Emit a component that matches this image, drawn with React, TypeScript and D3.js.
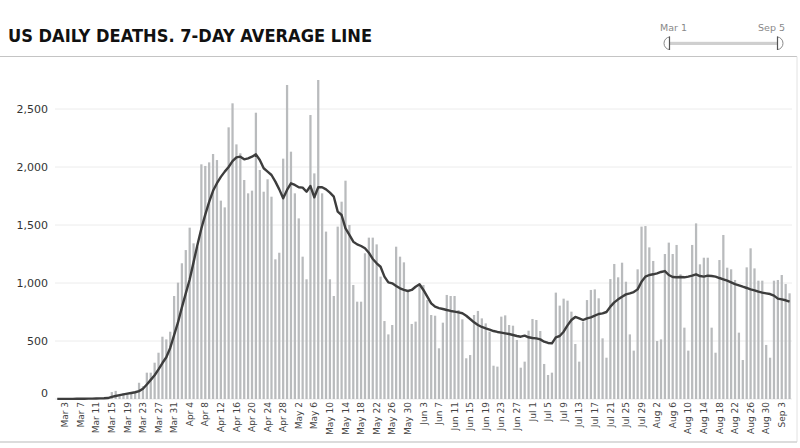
import React from "react";
import * as d3 from "d3";

// Daily US deaths, Mar 1 – Sep 5 (one value per day)
const deaths: number[] = [
  0, 1, 1, 2, 3, 2, 2, 3, 4, 4, 6, 7, 9, 12, 60, 70, 35, 50, 45, 55,
  65, 140, 110, 227, 227, 313, 399, 537, 514, 580, 888, 1003, 1170, 1284, 1477, 1342, 1313, 2023, 2009, 2040,
  2112, 2060, 1710, 1652, 2342, 2549, 2195, 2118, 1888, 1773, 1796, 2468, 1974, 1787, 1894, 1744, 1204, 1261, 2072, 2707,
  2132, 1773, 1557, 1227, 1032, 2448, 1945, 2750, 1773, 1443, 1032, 888, 1486, 1701, 1882, 1500, 983, 839, 839, 1256,
  1391, 1391, 1333, 1055, 672, 557, 638, 1313, 1227, 1178, 925, 647, 667, 991, 983, 853, 724, 718, 437, 658,
  897, 888, 888, 767, 687, 351, 379, 724, 759, 695, 652, 580, 287, 279, 710, 721, 638, 632, 509, 270,
  322, 589, 690, 681, 586, 302, 207, 227, 917, 805, 865, 848, 753, 474, 322, 667, 853, 940, 945, 868,
  523, 356, 1034, 1164, 1049, 1175, 1011, 557, 417, 1118, 1486, 1491, 1307, 1190, 500, 514, 1250, 1348, 1250, 1328,
  1075, 615, 417, 1328, 1514, 1161, 1218, 1218, 615, 399, 1198, 1414, 1132, 1118, 1026, 572, 336, 1135, 1299, 1126,
  1020, 1020, 466, 356, 1020, 1026, 1069, 991, 911,
];

// 7-day average line
const avg7: number[] = [
  1, 1, 1, 1, 1, 2, 2, 2, 3, 3, 4, 5, 6, 8, 18, 26, 33, 40, 46, 52,
  58, 68, 88, 125, 165, 205, 255, 310, 360, 440, 550, 660, 790, 910, 1030, 1180, 1330, 1470, 1590, 1700,
  1795, 1860, 1915, 1960, 2000, 2050, 2083, 2089, 2066, 2075, 2089, 2109, 2060, 1989, 1960, 1931, 1874, 1807, 1730, 1802,
  1859, 1845, 1825, 1822, 1787, 1836, 1739, 1825, 1825, 1807, 1779, 1744, 1615, 1586, 1471, 1414, 1356, 1333, 1319, 1299,
  1261, 1207, 1170, 1140, 1055, 1006, 997, 974, 954, 940, 931, 940, 968, 989, 940, 882, 825, 796, 784, 776,
  767, 759, 753, 747, 739, 718, 690, 661, 638, 621, 609, 598, 586, 578, 572, 566, 560, 552, 543, 537,
  546, 532, 526, 523, 514, 494, 483, 480, 532, 543, 580, 635, 681, 707, 695, 681, 695, 704, 718, 733,
  738, 750, 796, 833, 859, 882, 902, 911, 922, 945, 1011, 1055, 1069, 1075, 1083, 1095, 1103, 1069, 1052, 1049,
  1052, 1049, 1055, 1063, 1075, 1060, 1055, 1063, 1060, 1055, 1043, 1032, 1020, 1006, 991, 980, 968, 957, 945, 937,
  925, 917, 911, 905, 891, 865, 859, 851, 839,
];

const yTicks: number[] = [0, 500, 1000, 1500, 2000, 2500];

const xTickLabels: string[] = [
  "Mar 3", "Mar 7", "Mar 11", "Mar 15", "Mar 19", "Mar 23", "Mar 27", "Mar 31",
  "Apr 4", "Apr 8", "Apr 12", "Apr 16", "Apr 20", "Apr 24", "Apr 28",
  "May 2", "May 6", "May 10", "May 14", "May 18", "May 22", "May 26", "May 30",
  "Jun 3", "Jun 7", "Jun 11", "Jun 15", "Jun 19", "Jun 23", "Jun 27",
  "Jul 1", "Jul 5", "Jul 9", "Jul 13", "Jul 17", "Jul 21", "Jul 25", "Jul 29",
  "Aug 2", "Aug 6", "Aug 10", "Aug 14", "Aug 18", "Aug 22", "Aug 26", "Aug 30",
  "Sep 3",
];

const title = "US DAILY DEATHS. 7-DAY AVERAGE LINE";
const rangeStartLabel = "Mar 1";
const rangeEndLabel = "Sep 5";

const W = 800;
const H = 448;

export default function App() {
  const dates = d3.timeDay.range(new Date(2020, 2, 1), new Date(2020, 8, 6));
  const fmt = d3.timeFormat("%b %-d");
  const keys = dates.map((d) => fmt(d));

  const x = d3
    .scaleBand<string>()
    .domain(keys)
    .range([55.3, 791.5])
    .paddingInner(0.42)
    .paddingOuter(0.21);
  const step = x.step();
  const cx = (k: string) => (x(k) as number) + x.bandwidth() / 2;

  const y = d3.scaleLinear().domain([0, 2500]).range([399, 109]);

  const line = d3
    .line<number>()
    .x((_, i) => cx(keys[i]))
    .y((v) => y(v))
    .curve(d3.curveLinear);

  const font = "'DejaVu Sans', Verdana, sans-serif";

  return (
    <div style={{ position: "fixed", left: 0, top: 0, width: W, height: H, background: "#fff" }}>
      <svg width={W} height={H} style={{ display: "block" }}>
        <rect x={0} y={0} width={W} height={H} fill="#ffffff" />
        {/* title */}
        <text
          x={8}
          y={42}
          fontFamily={font}
          fontWeight="bold"
          fontSize={17}
          fill="#111"
          textLength={364}
          lengthAdjust="spacingAndGlyphs"
        >
          {title}
        </text>
        {/* panel frame */}
        <line x1={0} x2={797} y1={56.5} y2={56.5} stroke="#c4c4c4" strokeWidth={1.2} />
        <line x1={797} x2={797} y1={56.5} y2={442} stroke="#e2e2e2" strokeWidth={1} />
        <line x1={0} x2={797} y1={442} y2={442} stroke="#d0d0d0" strokeWidth={1.5} />

        {/* range slider */}
        <text x={673.5} y={31} textAnchor="middle" fontFamily={font} fontSize={9.5} fill="#888">
          {rangeStartLabel}
        </text>
        <text x={771.5} y={31} textAnchor="middle" fontFamily={font} fontSize={9.5} fill="#888">
          {rangeEndLabel}
        </text>
        <rect x={669} y={41.8} width={109} height={3.2} fill="#cfcfcf" />
        <path d="M670,37 A6,6.3 0 0 0 670,49.6" fill="#fff" stroke="#8a8a8a" strokeWidth={1} />
        <line x1={669.5} x2={669.5} y1={36.5} y2={50} stroke="#555" strokeWidth={1.2} />
        <path d="M777,37 A6,6.3 0 0 1 777,49.6" fill="#fff" stroke="#8a8a8a" strokeWidth={1} />
        <line x1={777.5} x2={777.5} y1={36.5} y2={50} stroke="#555" strokeWidth={1.2} />

        {/* gridlines */}
        {yTicks.map((t) => (
          <line
            key={"g" + t}
            x1={55}
            x2={792}
            y1={y(t)}
            y2={y(t)}
            stroke="#ececec"
            strokeWidth={1}
          />
        ))}
        {/* y labels */}
        {yTicks.map((t) => (
          <text
            key={"yl" + t}
            x={48}
            y={t === 0 ? y(t) - 6 : y(t)}
            dy="0.35em"
            textAnchor="end"
            fontFamily={font}
            fontSize={11}
            fill="#333"
          >
            {d3.format(",")(t)}
          </text>
        ))}

        {/* bars */}
        {deaths.map((v, i) => (
          <rect
            key={"b" + i}
            x={x(keys[i]) as number}
            y={y(v)}
            width={x.bandwidth()}
            height={Math.max(0, y(0) - y(v))}
            fill="#b9bbbd"
          />
        ))}

        {/* 7-day average */}
        <path d={line(avg7) || ""} fill="none" stroke="#3d3d3d" strokeWidth={2.4} strokeLinejoin="round" />

        {/* x labels */}
        {xTickLabels.map((lab) => {
          const px = cx(lab);
          return (
            <text
              key={"xl" + lab}
              transform={`translate(${px},402) rotate(-90)`}
              textAnchor="end"
              dy="0.35em"
              fontFamily={font}
              fontSize={9}
              fill="#444"
            >
              {lab}
            </text>
          );
        })}
      </svg>
    </div>
  );
}
